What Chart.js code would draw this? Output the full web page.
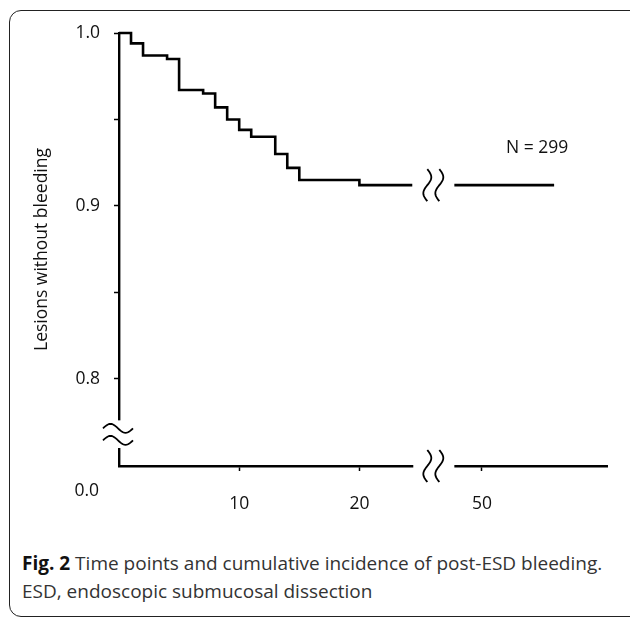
<!DOCTYPE html>
<html>
<head>
<meta charset="utf-8">
<script src="https://cdn.jsdelivr.net/npm/chart.js@4.4.1/dist/chart.umd.min.js"></script>
<style>
  body { margin: 0; background: #fff; width: 630px; height: 617px; overflow: hidden; position: relative; font-family: 'Open Sans', sans-serif; }
  .frame { position: absolute; left: 9px; top: 10px; width: 660px; height: 605px; border: 1.5px solid #222; border-radius: 12px; }
  #km { position: absolute; left: 0; top: 0; }
  .caption { position: absolute; left: 22px; top: 549px; font-size: 19px; line-height: 28px; color: #333; white-space: nowrap; }
  .caption b { color: #111; }
</style>
</head>
<body>
<div class="frame"></div>
<canvas id="km" width="630" height="530"></canvas>
<div class="caption"><b>Fig. 2</b> Time points and cumulative incidence of post-ESD bleeding.<br>ESD, endoscopic submucosal dissection</div>
<script>
// Kaplan-Meier steps: day of each drop and the fraction left without bleeding
const stepDays = [0, 1, 2, 4, 5, 7, 8, 9, 10, 11, 13, 14, 15, 20];
const survival = [1.0, 0.994, 0.987, 0.985, 0.967, 0.965, 0.957, 0.950, 0.944, 0.940, 0.930, 0.922, 0.915, 0.912];

// days cut out of the x axis, and follow-up limits
const xBreak = [24.4, 47.7];
const lastFollowUpDay = 56;
const xAxisEndDay = 60.4;

const xTickDays = [10, 20, 50];
const yTickValues = [0.8, 0.85, 0.9, 0.95, 1.0];
const yTickLabels = ['0.8', '', '0.9', '', '1.0'];
const patientCount = 299;

const FONT = { family: "'Open Sans', sans-serif", size: 17.5 };
const X_GAP = 3.5;        // width of the x break in day units
const Y_FLOOR = 0.7496;   // where 0.0 lands below the y break
const Y_BREAK = [0.776, 0.760];

function xPos(day) {
    if (day <= xBreak[0]) return day;
    return day - (xBreak[1] - xBreak[0]) + X_GAP;
}

const points = stepDays.map((d, i) => ({ x: xPos(d), y: survival[i] }));
const lastValue = survival[survival.length - 1];
points.push({ x: xPos(xBreak[0]), y: lastValue });
points.push({ x: xPos(xBreak[0]) + X_GAP / 2, y: null });
points.push({ x: xPos(xBreak[1]), y: lastValue });
points.push({ x: xPos(lastFollowUpDay), y: lastValue });

function hWave(ctx, x0, x1, yc, amp) {
    ctx.beginPath();
    for (let i = 0; i <= 24; i++) {
        const t = i / 24;
        const px = x0 + (x1 - x0) * t;
        const py = yc - amp * Math.sin(2 * Math.PI * t);
        if (i === 0) ctx.moveTo(px, py); else ctx.lineTo(px, py);
    }
    ctx.stroke();
}

function vWave(ctx, xc, y0, y1, amp) {
    ctx.beginPath();
    for (let i = 0; i <= 24; i++) {
        const t = i / 24;
        const py = y0 + (y1 - y0) * t;
        const px = xc + amp * Math.sin(2 * Math.PI * t);
        if (i === 0) ctx.moveTo(px, py); else ctx.lineTo(px, py);
    }
    ctx.stroke();
}

const breakMarks = {
    id: 'breakMarks',
    afterDraw(chart) {
        const { ctx, chartArea } = chart;
        const x = chart.scales.x;
        const y = chart.scales.y;
        ctx.save();

        // open the gaps in both axes
        const gapTop = y.getPixelForValue(Y_BREAK[0]);
        const gapBot = y.getPixelForValue(Y_BREAK[1]);
        const gapL = x.getPixelForValue(xBreak[0]);
        const gapR = x.getPixelForValue(xPos(xBreak[1]));
        ctx.fillStyle = '#fff';
        ctx.fillRect(chartArea.left - 4, gapTop, 8, gapBot - gapTop);
        ctx.fillRect(gapL + 1, chartArea.bottom - 4, gapR - gapL - 1, 8);

        ctx.strokeStyle = '#000';
        ctx.lineWidth = 1.8;
        const ax = chartArea.left;
        hWave(ctx, ax - 16, ax + 14, gapTop + 8, 4.5);
        hWave(ctx, ax - 16, ax + 14, gapTop + 20, 4.5);

        const mid = (gapL + gapR) / 2;
        const curveY = y.getPixelForValue(lastValue);
        [curveY, chartArea.bottom].forEach(yc => {
            vWave(ctx, mid - 6, yc - 16, yc + 16, 4);
            vWave(ctx, mid + 6, yc - 16, yc + 16, 4);
        });

        // free texts
        ctx.fillStyle = '#111';
        ctx.font = `${FONT.size}px ${FONT.family}`;
        ctx.textBaseline = 'alphabetic';
        ctx.textAlign = 'right';
        ctx.fillText('0.0', ax - 20, chartArea.bottom + 30);
        ctx.textAlign = 'left';
        ctx.fillText('N = ' + patientCount, 506, 153);
        ctx.textAlign = 'center';
        ctx.fillText('Days after ESD', 415, 544);
        ctx.restore();
    }
};

new Chart(document.getElementById('km'), {
    type: 'line',
    data: {
        datasets: [{
            data: points,
            stepped: true,
            borderColor: '#000',
            borderWidth: 2.6,
            pointRadius: 0,
            fill: false,
            clip: false,
            spanGaps: false
        }]
    },
    options: {
        responsive: false,
        animation: false,
        devicePixelRatio: 1,
        layout: { padding: { top: 33, right: 23, left: 0, bottom: 0 } },
        plugins: { legend: { display: false }, tooltip: { enabled: false } },
        scales: {
            x: {
                type: 'linear',
                min: 0,
                max: xPos(xAxisEndDay),
                afterBuildTicks: s => { s.ticks = xTickDays.map(d => ({ value: xPos(d) })); },
                afterFit: s => { s.height = 64; },
                ticks: {
                    callback: (v, i) => String(xTickDays[i]),
                    padding: 23,
                    color: '#111',
                    font: FONT,
                    maxRotation: 0,
                    autoSkip: false
                },
                grid: { drawOnChartArea: false, drawTicks: true, tickLength: 5, tickColor: '#000', tickWidth: 1.5 },
                border: { color: '#000', width: 2.4 }
            },
            y: {
                min: Y_FLOOR,
                max: 1.0,
                afterBuildTicks: s => { s.ticks = yTickValues.map(v => ({ value: v })); },
                afterFit: s => { s.width = 119; },
                ticks: {
                    callback: (v, i) => yTickLabels[i],
                    padding: 14,
                    color: '#111',
                    font: FONT,
                    autoSkip: false
                },
                grid: { drawOnChartArea: false, drawTicks: true, tickLength: 5, tickColor: '#000', tickWidth: 1.5 },
                border: { color: '#000', width: 2.4 },
                title: {
                    display: true,
                    text: 'Lesions without bleeding',
                    color: '#111',
                    font: FONT,
                    padding: { top: 32, bottom: 0 }
                }
            }
        }
    },
    plugins: [breakMarks]
});
</script>
</body>
</html>
